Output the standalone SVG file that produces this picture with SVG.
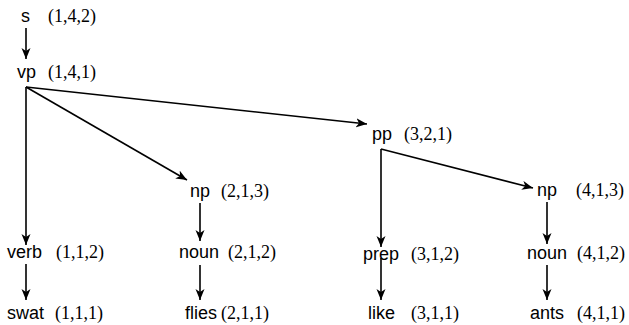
<svg xmlns="http://www.w3.org/2000/svg" width="629" height="325" viewBox="0 0 629 325">
<style>
.w{font-family:"Liberation Sans",Arial,sans-serif;font-size:18px;fill:#000}
.t{font-family:"Liberation Serif","Times New Roman",serif;font-size:18px;fill:#000}
.c line{stroke:#000;stroke-width:1.6;fill:none;marker-end:url(#ah)}
</style>
<defs>
<marker id="ah" markerUnits="userSpaceOnUse" markerWidth="12" markerHeight="10" refX="11" refY="4.5" orient="auto">
<path d="M0,0 L11,4.5 L0,9 L3,4.5 z" fill="#000"/>
</marker>
</defs>
<rect width="629" height="325" fill="#fff"/>
<g id="n-s"><text class="w" x="21" y="22">s</text><text class="t" x="48" y="22">(1,4,2)</text></g>
<g id="n-vp"><text class="w" x="17" y="78">vp</text><text class="t" x="48" y="78">(1,4,1)</text></g>
<g id="n-np1"><text class="w" x="190" y="197">np</text><text class="t" x="221" y="197">(2,1,3)</text></g>
<g id="n-pp"><text class="w" x="372" y="140">pp</text><text class="t" x="404" y="140">(3,2,1)</text></g>
<g id="n-np2"><text class="w" x="537" y="196">np</text><text class="t" x="576" y="196">(4,1,3)</text></g>
<g id="n-verb"><text class="w" x="7" y="258">verb</text><text class="t" x="56" y="258">(1,1,2)</text></g>
<g id="n-noun1"><text class="w" x="179" y="258">noun</text><text class="t" x="228" y="258">(2,1,2)</text></g>
<g id="n-prep"><text class="w" x="363" y="260">prep</text><text class="t" x="411" y="260">(3,1,2)</text></g>
<g id="n-noun2"><text class="w" x="527" y="259">noun</text><text class="t" x="577" y="259">(4,1,2)</text></g>
<g id="n-swat"><text class="w" x="7" y="319">swat</text><text class="t" x="55" y="319">(1,1,1)</text></g>
<g id="n-flies"><text class="w" x="185" y="319">flies</text><text class="t" x="221" y="319">(2,1,1)</text></g>
<g id="n-like"><text class="w" x="368" y="319">like</text><text class="t" x="411" y="319">(3,1,1)</text></g>
<g id="n-ants"><text class="w" x="530" y="319">ants</text><text class="t" x="577" y="319">(4,1,1)</text></g>
<g id="connectors" class="c">
<line x1="26" y1="28" x2="26" y2="59"/>
<line x1="26" y1="87" x2="26" y2="245"/>
<line x1="26" y1="87" x2="187" y2="180"/>
<line x1="26" y1="87" x2="367" y2="124"/>
<line x1="200" y1="203" x2="200" y2="241"/>
<line x1="200" y1="265" x2="200" y2="300"/>
<line x1="26" y1="264" x2="26" y2="300"/>
<line x1="381" y1="149" x2="381" y2="247"/>
<line x1="381" y1="149" x2="533" y2="188"/>
<line x1="381" y1="258" x2="381" y2="300"/>
<line x1="547" y1="202" x2="547" y2="244"/>
<line x1="547" y1="265" x2="547" y2="300"/>
</g>
</svg>
